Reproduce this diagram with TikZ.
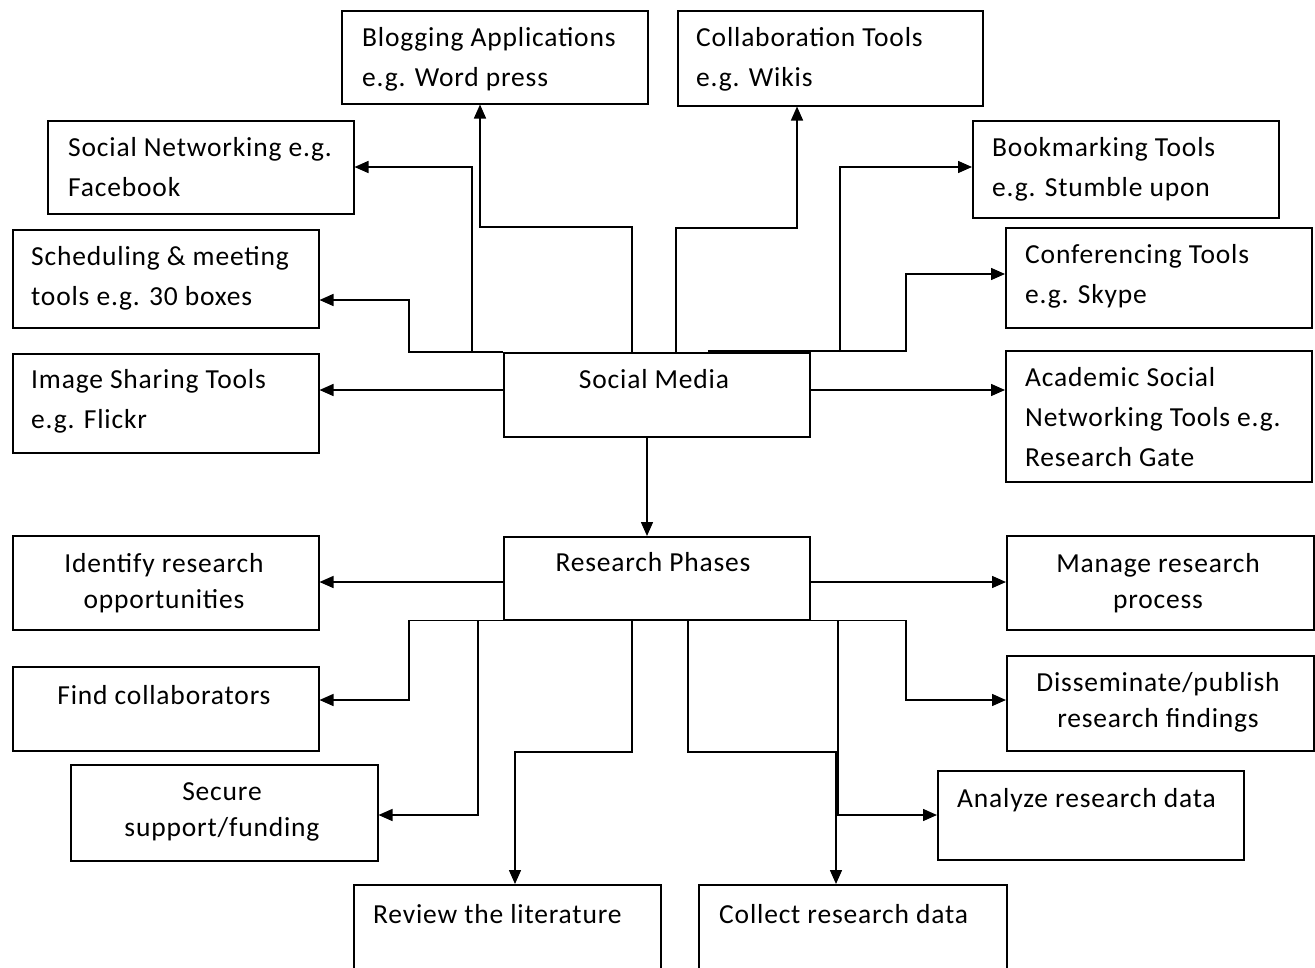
\documentclass[tikz,border=0pt]{standalone}
\usepackage{fontspec}
\setmainfont{Carlito}[LetterSpace=3]
\usetikzlibrary{arrows.meta}
% multi-line labels whose first baseline is the node's base
\newcommand{\leftlines}[1]{\begin{tabular}[t]{@{}l@{}}#1\end{tabular}}
\newcommand{\midlines}[1]{\begin{tabular}[t]{@{}c@{}}#1\end{tabular}}
\begin{document}
\begin{tikzpicture}[x=1pt, y=-1pt,
  box/.style={draw, line width=1.5pt, anchor=north west, inner sep=0pt},
  txtL/.style={anchor=base west, inner sep=0pt, font=\fontsize{27.5}{40}\selectfont},
  txtC/.style={anchor=base, inner sep=0pt, font=\fontsize{27.5}{36}\selectfont},
  link/.style={line width=1.5pt},
  arr/.style={link, -{Triangle[length=14pt, width=12pt]}}]
\useasboundingbox (0,0) rectangle (1315,967);
\clip (0,0) rectangle (1315,967);

% ---- boxes ----
\node[box, minimum width=306pt, minimum height=93pt]  (blog)    at (341,10)  {};
\node[box, minimum width=305pt, minimum height=95pt]  (collab)  at (677,10)  {};
\node[box, minimum width=306pt, minimum height=93pt]  (sn)      at (47,120)  {};
\node[box, minimum width=306pt, minimum height=97pt]  (bm)      at (972,120) {};
\node[box, minimum width=306pt, minimum height=98pt]  (sched)   at (12,229)  {};
\node[box, minimum width=306pt, minimum height=100pt] (conf)    at (1005,227) {};
\node[box, minimum width=306pt, minimum height=99pt]  (img)     at (12,353)  {};
\node[box, minimum width=306pt, minimum height=84pt]  (sm)      at (503,352) {};
\node[box, minimum width=306pt, minimum height=131pt] (acad)    at (1005,350) {};
\node[box, minimum width=306pt, minimum height=83pt]  (rp)      at (503,536) {};
\node[box, minimum width=306pt, minimum height=94pt]  (ident)   at (12,535)  {};
\node[box, minimum width=307pt, minimum height=94pt]  (manage)  at (1006,535) {};
\node[box, minimum width=306pt, minimum height=84pt]  (find)    at (12,666)  {};
\node[box, minimum width=307pt, minimum height=95pt]  (dissem)  at (1006,655) {};
\node[box, minimum width=307pt, minimum height=96pt]  (secure)  at (70,764)  {};
\node[box, minimum width=306pt, minimum height=89pt]  (analyze) at (937,770) {};
\node[box, minimum width=307pt, minimum height=120pt] (review)  at (353,884) {};
\node[box, minimum width=308pt, minimum height=120pt] (collect) at (698,884) {};

% ---- labels ----
\node[txtL] (blogT)    at (362,46)  {\leftlines{Blogging Applications\\e.g. Word press}};
\node[txtL] (collabT)  at (696,46)  {\leftlines{Collaboration Tools\\e.g. Wikis}};
\node[txtL] (snT)      at (68,156)  {\leftlines{Social Networking e.g.\\Facebook}};
\node[txtL] (bmT)      at (992,156) {\leftlines{Bookmarking Tools\\e.g. Stumble upon}};
\node[txtL] (schedT)   at (31,265)  {\leftlines{Scheduling \& meeting\\tools e.g. 30 boxes}};
\node[txtL] (confT)    at (1025,263) {\leftlines{Conferencing Tools\\e.g. Skype}};
\node[txtL] (imgT)     at (31,388)  {\leftlines{Image Sharing Tools\\e.g. Flickr}};
\node[txtC] (smT)      at (654,388) {Social Media};
\node[txtL] (acadT)    at (1025,386) {\leftlines{Academic Social\\Networking Tools e.g.\\Research Gate}};
\node[txtC] (rpT)      at (653,571) {Research Phases};
\node[txtC] (identT)   at (164,572) {\midlines{Identify research\\opportunities}};
\node[txtC] (manageT)  at (1158,572) {\midlines{Manage research\\process}};
\node[txtC] (findT)    at (164,704) {Find collaborators};
\node[txtC] (dissemT)  at (1158,691) {\midlines{Disseminate/publish\\research findings}};
\node[txtC] (secureT)  at (222,800) {\midlines{Secure\\support/funding}};
\node[txtL] (analyzeT) at (957,807) {Analyze research data};
\node[txtL] (reviewT)  at (373,923) {Review the literature};
\node[txtL] (collectT) at (719,923) {Collect research data};

% ---- connectors from Social Media ----
\draw[arr] (sm.north -| 632,0) |- (480,227) -- (blog.south -| 480,0);
\draw[arr] (sm.north -| 676,0) |- (797,228) -- (collab.south -| 797,0);
\draw[arr] (sm.north -| 472,0) |- (sn.east |- 0,167);
\draw[arr] (sm.north west) -- (sm.north west -| 409,0) |- (sched.east |- 0,300);
\draw[arr] (708,351) -- (906,351) |- (conf.west |- 0,274);
\draw[arr] (sm.north -| 840,0) |- (bm.west |- 0,167);
\draw[arr] (sm.west |- 0,390) -- (img.east |- 0,390);
\draw[arr] (sm.east |- 0,390) -- (acad.west |- 0,390);
\draw[arr] (sm.south -| 647,0) -- (rp.north -| 647,0);

% ---- connectors from Research Phases ----
\draw[arr] (rp.west |- 0,582) -- (ident.east |- 0,582);
\draw[arr] (rp.east |- 0,582) -- (manage.west |- 0,582);
\draw[arr] (rp.south west) -- (rp.south west -| 409,0) |- (find.east |- 0,700);
\draw[arr] (rp.south west -| 478,0) |- (secure.east |- 0,815);
\draw[arr] (rp.south -| 632,0) |- (515,752) -- (review.north -| 515,0);
\draw[arr] (rp.south -| 688,0) |- (836,752) -- (collect.north -| 836,0);
\draw[arr] (rp.south -| 838,0) |- (analyze.west |- 0,815);
\draw[arr] (rp.south east) -- (rp.south east -| 906,0) |- (dissem.west |- 0,700);
\end{tikzpicture}
\end{document}
